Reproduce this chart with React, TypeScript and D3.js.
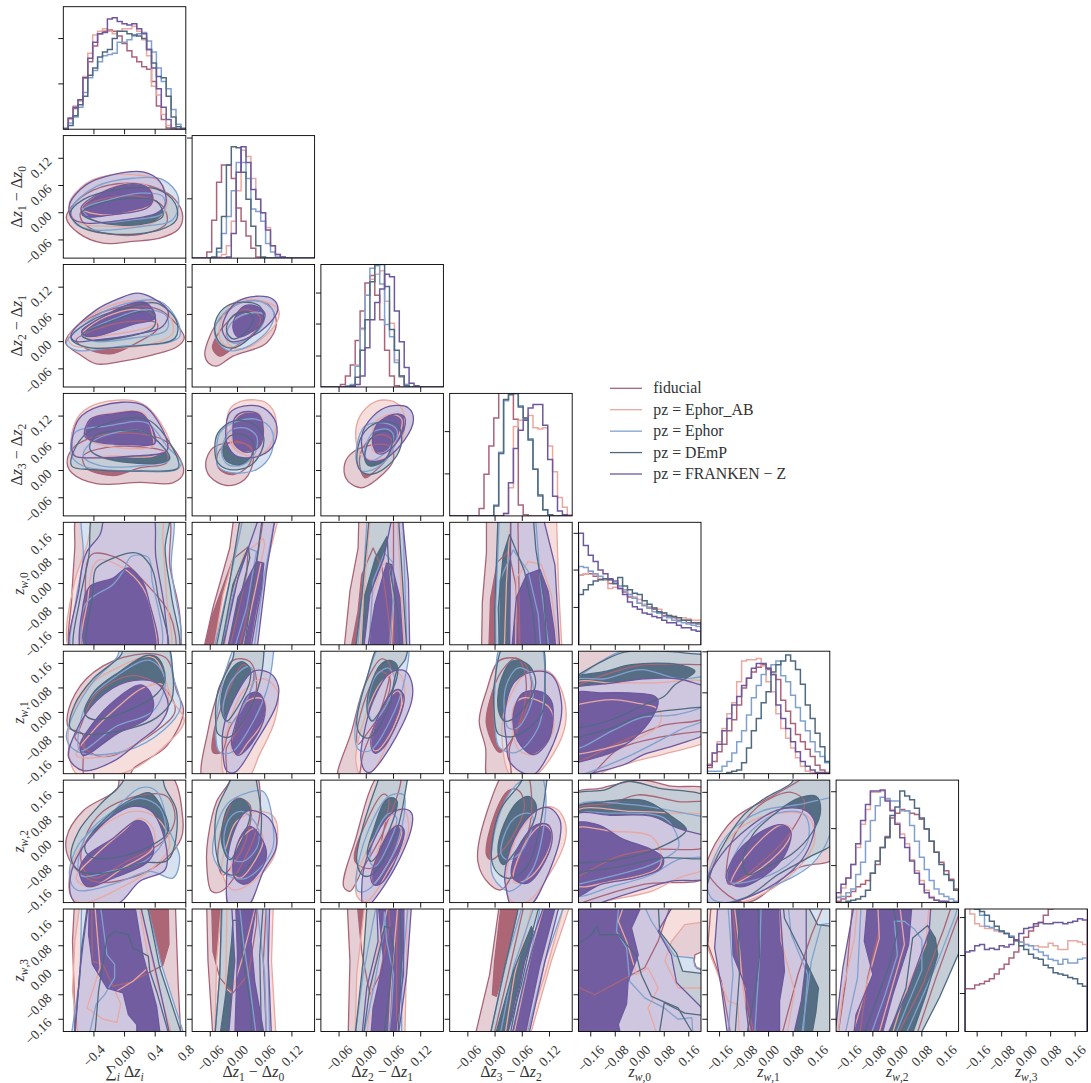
import React from "react";
import * as d3 from "d3";

const seriesNames = ["fiducial", "pz = Ephor_AB", "pz = Ephor", "pz = DEmP", "pz = FRANKEN − Z"];
const lineColors = ["#aa6478", "#e9a8a1", "#80a1d0", "#4f6a80", "#6d589e"];
const lightColors = ["#e5cfd5", "#f5dedb", "#d6e2ef", "#c5ced6", "#cfc7df"];
const darkColors = ["#ad6676", null, null, "#556e84", "#725da0"];

// parameter ranges, in hundredths
const sumRange = [-80, 80];
const deltaRange = [-10, 17];
const wRange = [-20, 20];
const sumTicks = [-40, 0, 40, 80];
const deltaTicks = [-6, 0, 6, 12];
const wTicks = [-16, -8, 0, 8, 16];
const paramRanges = [sumRange, deltaRange, deltaRange, deltaRange, wRange, wRange, wRange, wRange];
const paramTicks = [sumTicks, deltaTicks, deltaTicks, deltaTicks, wTicks, wTicks, wTicks, wTicks];

// marginal histograms, 25 bins each, relative height 0-100
const H0 = [
  [0,9,17,24,42,55,68,78,80,81,80,76,70,64,59,55,51,49,39,19,8,1,0,0,0],
  [0,8,19,23,43,62,77,80,82,80,78,80,82,82,84,80,73,60,35,28,12,3,1,0,0],
  [1,5,10,18,30,42,48,55,60,61,62,71,71,73,76,78,79,72,63,50,39,33,16,4,1],
  [0,3,11,20,27,44,50,59,63,65,74,80,80,78,77,76,74,65,54,43,42,27,10,2,0],
  [0,9,18,24,42,58,71,78,79,90,91,88,86,85,86,82,78,65,50,33,18,8,1,0,0],
];
const H1 = [
  [0,0,0,5,31,62,76,76,65,41,30,18,8,1,0,0,0,0,0,0,0,0,0,0,0],
  [0,0,0,0,0,1,3,10,30,55,88,83,65,48,37,25,10,3,1,0,0,0,0,0,0],
  [0,0,0,0,0,5,20,34,55,78,78,65,40,38,30,12,5,1,0,0,0,0,0,0,0],
  [0,0,0,0,1,8,34,76,91,90,70,48,26,10,1,0,0,0,0,0,0,0,0,0,0],
  [0,0,0,0,0,0,0,1,20,70,91,78,56,48,37,23,10,3,1,0,0,0,0,0,0],
];
const H2 = [
  [0,0,0,0,2,9,18,38,62,85,91,75,55,30,9,1,0,0,0,0,0,0,0,0,0],
  [0,0,0,0,0,0,1,18,47,75,88,92,95,70,52,22,8,2,0,0,0,0,0,0,0],
  [0,0,0,0,0,1,2,17,48,75,97,99,84,51,41,20,9,2,0,0,0,0,0,0,0],
  [0,0,0,0,0,0,1,8,30,55,86,100,100,82,47,30,9,1,0,0,0,0,0,0,0],
  [0,0,0,0,0,0,0,2,9,32,55,69,80,92,90,62,37,16,3,1,0,0,0,0,0],
];
const H3 = [
  [0,0,0,0,0,0,6,34,57,80,104,108,108,79,9,1,0,0,0,0,0,0,0,0,0],
  [0,0,0,0,0,0,0,0,0,0,0,2,23,73,78,80,82,72,71,72,57,36,15,7,1],
  [0,0,0,0,0,0,0,0,0,9,52,94,100,100,90,79,63,38,16,5,1,0,0,0,0],
  [0,0,0,0,0,0,0,0,0,8,51,95,99,100,89,80,62,38,17,5,1,0,0,0,0],
  [0,0,0,0,0,0,0,0,0,0,0,2,27,55,70,78,88,91,91,74,46,16,4,1,0],
];
const H4 = [
  [57,58,58,56,54,53,50,50,46,43,39,38,34,32,30,29,26,24,23,22,20,20,18,18,17],
  [57,58,60,57,54,53,46,47,48,45,41,39,37,33,31,30,29,26,24,23,22,22,21,20,20],
  [64,63,60,58,56,54,53,50,48,45,41,38,34,32,30,27,26,23,22,20,19,18,17,16,15],
  [41,45,49,52,53,54,53,50,55,48,45,42,41,36,33,30,27,26,24,23,22,20,20,18,18],
  [91,81,73,68,61,58,54,52,46,41,35,31,29,26,25,23,22,20,18,18,16,14,14,12,11],
];
const H5 = [
  [5,10,18,24,35,44,56,70,78,83,87,89,85,81,77,60,51,41,32,26,20,14,7,3,1],
  [8,17,26,37,49,58,75,92,93,93,94,88,75,67,49,37,29,21,13,6,2,1,0,0,0],
  [2,2,2,6,10,17,26,35,48,62,72,81,86,89,92,80,75,64,54,43,35,26,18,14,9],
  [0,0,0,0,1,2,3,9,21,35,45,58,67,83,89,92,97,92,85,73,56,45,33,22,10],
  [7,17,24,35,45,56,63,72,78,86,90,90,86,81,56,45,37,26,18,10,6,3,1,1,0],
];
const H6 = [
  [1,3,5,9,13,15,18,24,31,45,54,69,73,76,75,73,72,68,60,50,41,33,26,19,11],
  [5,12,20,31,45,64,76,90,90,91,84,76,65,56,48,35,26,18,10,5,2,1,0,0,0],
  [4,5,8,11,23,33,50,67,79,86,85,83,83,75,75,63,50,37,27,18,11,7,5,3,1],
  [0,0,1,2,3,5,10,24,34,45,53,71,78,91,87,84,77,69,60,50,41,31,23,18,10],
  [8,15,20,31,48,67,80,91,91,92,83,75,64,53,45,34,24,15,8,4,2,1,1,0,0],
];
const H7 = [
  [35,35,38,39,41,43,47,51,55,60,65,70,77,82,86,89,95,100,103,106,108,110,112,115,118],
  [101,96,88,86,84,84,82,81,80,77,74,73,71,70,70,69,69,72,70,67,67,74,74,73,71],
  [101,101,100,95,86,85,83,82,80,78,75,73,71,70,67,65,62,59,58,55,59,56,56,59,60],
  [101,101,100,98,95,90,86,82,80,77,74,70,67,63,60,59,54,52,48,47,46,44,43,39,37],
  [65,66,70,71,67,68,67,70,69,71,75,80,84,85,88,89,88,88,89,89,88,89,90,92,91],
];
const histograms = [H0, H1, H2, H3, H4, H5, H6, H7];
const histTicks = [[37,74],[48.4,98],[25.3,51.4,76.7],[34.3,68.8],[30.5,61,91],[33.4,66,99.5],[30.2,60.4,90.5],[31,62,93]];

// contours, flat x,y pairs in hundredths. Order per panel:
// fiducial 95/68, Ephor_AB 95/68, Ephor 95/68, DEmP 95/68, FRANKEN 95/68
const P1_0 = [
  [-76,-1.2,-60,-4.5,-28,-6.7,11,-6.3,46,-5.6,70,-3.7,76,-.8,66,2.9,42,5.4,3,6.5,-41,5,-69,1.4],
  [-58,-.8,-45,-3.4,-10,-4.9,29,-4.5,55,-2.3,50,1.4,20,3.6,-23,3.2,-52,1.4],
  [-72,2.1,-50,6.5,-23,8.2,11,8.4,46,6.9,55,1.4,37,-2.3,-19,-3,-63,-1.9],
  [-56,1,-28,4.7,11,6.5,33,5.4,37,2.1,11,.3,-32,-.4],
  [-69,1,-37,5.8,11,7.6,50,7.3,70,3.6,63,-1.5,24,-3,-41,-3.8,-65,-2.3],
  [-54,.7,-19,2.9,20,4.3,50,3.6,50,-.1,11,-1.5,-37,-1.9],
  [-71,-.1,-54,2.9,-10,5.1,42,5.2,66,2.1,68,-1.5,46,-3.8,-15,-4.7,-58,-3],
  [-56,-.1,-32,2,11,3.2,42,2.5,50,-.8,20,-2.6,-32,-2.1],
  [-72,1.8,-50,6.2,-15,8.4,24,9,46,6.9,54,2.1,42,-.1,3,-1.5,-50,-2.3,-69,-1.2],
  [-57,1,-32,4.3,11,6.4,31,5.4,37,2.9,29,1,-15,-.4,-50,-.8],
];
const P2_0 = [
  [-77,-.3,-58,-2.9,-37,-4.9,-2,-4.3,37,-2.9,68,-1.2,78,.8,68,3.8,46,7,3,7.8,-41,5.6,-69,2.3],
  [-63,.4,-32,3,11,4.5,42,4.1,42,2.6,20,.1,-19,-2.7,-54,-1.2],
  [-73,1.2,-41,6,3,8.9,42,8.5,55,7,63,1.9,29,-.7,-32,-1.4,-69,-.7],
  [-56,1.5,-32,4.9,11,7.1,35,6.3,42,4.1,29,3,-19,1.5,-50,.8],
  [-76,-.3,-50,4.1,-10,7.8,46,8.9,68,4.9,72,1.2,55,-.3,3,-.9,-63,-1.9],
  [-54,1.5,-15,4.9,29,7.1,55,5.6,55,2.6,11,.8,-41,.1],
  [-70,.8,-37,5.2,3,7.4,42,8.5,68,4.5,66,.8,11,-1,-50,-1.2],
  [-56,1.5,-23,4.1,29,6.7,40,5.2,37,3,-6,.8,-45,.4],
  [-70,1.5,-37,7,-6,9.6,16,10.7,37,9.6,57,6.7,50,3.4,11,1.5,-37,.4,-65,.1],
  [-56,2.3,-23,6,11,8.5,29,8.5,40,5.2,11,3.8,-37,1.2,-52,1.3],
];
const P3_0 = [
  [-75,1.7,-69,-.5,-37,-2.9,20,-2.6,63,-2.7,77,-.5,68,3.9,50,6.8,-2,8.3,-50,6.8,-69,4.6],
  [-54,3.2,-23,5.1,33,5,55,3.9,55,1.7,20,.6,-15,-1.1,-50,.6],
  [-70,6.8,-58,12.4,-32,14.9,11,15.4,33,13.5,59,5.4,37,3.2,-15,3.2,-63,3.2],
  [-52,7.9,-45,11.3,-15,12.7,24,12.7,37,7.6,37,5.4,-6,5,-45,6.5],
  [-69,3.2,-65,8.3,-23,9.8,29,10.5,55,5.4,74,1.7,68,.2,11,-.1,-54,1],
  [-54,3.2,-41,6.5,11,8.9,33,7.9,59,2.4,33,1.3,-32,1.1],
  [-69,1,-63,5.4,-43,9,29,11.3,68,3.2,70,.6,20,-.1,-41,.2],
  [-45,4.6,-39,7.6,3,8.9,29,8.3,59,2.8,50,1.8,-19,2.4],
  [-69,5,-60,11.3,-32,14.2,24,14.4,55,6.8,55,4.3,11,3.2,-41,2.8,-65,3.2],
  [-52,7.6,-45,11.3,-15,12.5,22,12.6,40,6.1,11,5.7,-41,6.5],
];
const P2_1 = [
  [-7.2,-2.9,-6.4,-4.7,-4.6,-5.4,-1,-3.2,6.4,-.3,8.6,4.1,6.4,8.5,.5,8.5,-3.9,4.9,-6.1,1.2],
  [-5.5,-1.4,-3.9,-3.2,-.96,-1.4,4.2,2.6,4.9,5.6,1.3,7.1,-2.4,4.1,-4.6,1.2],
  [-3.9,.8,-2.4,-1,2,-1.4,8.6,4.1,9,7.1,5.7,8.9,-.2,8.9,-3.2,5.6],
  [-2.6,.8,-1,-1.2,1.6,.1,5.7,4.1,5.7,6,2.4,6.3,-1,4.5],
  [-5,1.5,-2.4,-1.8,2,-1.2,7.1,3,7.9,6.7,4.9,8.9,.5,8.5,-3.9,5.2],
  [-2.4,1.5,-1,-.3,2.7,.8,5.7,4.1,5.7,6,2.7,6.3,-1,4.5],
  [-5,2.3,-3.5,-.7,-1,-1.4,2.7,.8,5.7,4.9,4.9,7.8,1.3,8.7,-2.4,7.8,-4.6,5.2],
  [-2.4,2.3,-1,.6,1.6,1.9,3.5,4.9,2.7,6.3,.1,6.3,-1.7,4.9],
  [-3.3,2.3,-1.7,.1,1.3,.4,6.4,3.4,8.9,7.1,7.9,9.3,4.2,10,.1,8.9,-2.4,6],
  [-1,3,.1,1,2.7,1.9,5.7,4.5,6,6.3,4.2,7.8,1.6,7.9,-.2,6],
];
const P3_1 = [
  [-7,1.7,-6.1,-1.3,-2.4,-3.3,1.6,-2,3.5,2.4,2.7,5.4,-1.7,6.1,-5.4,5],
  [-4.6,2.4,-3.9,.2,-1,-.9,2.4,1,3.1,4.6,-.2,6.5,-3.5,5],
  [-2.2,8.3,-1.7,13.5,1.3,15.4,6.4,14.9,8.5,11.3,7.1,5.4,4.2,3.2,-.2,4.3],
  [-1.3,6.8,-1,10.5,1.3,12.7,4.9,12.4,5.7,7.6,4.2,4.6,.1,4.3],
  [-4.6,4.6,-4.3,1,-1.7,-.4,4.2,.2,7.5,3.9,7.5,9,4.2,11.3,-1,10.5,-3.9,8.3],
  [-3.5,3.9,-2.1,1.3,1.3,1.3,3.9,3.9,4.2,7.6,1.6,9.4,-1.7,8.7],
  [-5,4.6,-4.3,1.7,-1.7,.2,2.7,1,5.3,4.3,5.7,7.6,3.1,10.5,-1,10.9,-4.3,8.3],
  [-3.2,4.6,-2.4,2.1,.5,1.3,3.1,3.2,3.5,6.1,1.3,7.9,-1.7,7.6],
  [-2.6,8.3,-1.7,12.7,1.3,14.2,5.7,13.8,8.5,10.5,8.2,6.1,4.9,3.2,-.2,3.2,-2.1,5.4],
  [-1,8.3,-.6,11.6,1.3,12.9,4.6,12.4,5.7,9,4.9,5.4,2,4,-.6,5.7],
];
const P3_2 = [
  [-4.9,.6,-4,-2.4,-1,-3.8,2.3,-2,6,2.4,5.2,5.4,.1,5.4,-3.6,3.5],
  [-1.5,1.7,-.3,-1.6,1.5,-.5,4.9,3.2,5.6,6.8,3,7.9,-.3,5.7],
  [-2.3,6.8,-1.4,12,2.3,15.3,6.7,14.9,8.4,12,7.4,5.4,3,2.4,-1,3.2],
  [1.2,6.8,1.9,10.5,5.6,12.4,7.8,11.3,6.7,6.8,3.8,3.9,1.5,4.3],
  [-2.1,1.7,-1,-.1,2.3,.6,5.9,4.6,6.7,9,3.8,10.5,-.3,9.8,-2.1,5.4],
  [-.3,3.2,.9,2.1,4.9,4.6,6,7.6,4.9,9,1.9,8.7,.1,6.1],
  [-2,1.7,-.7,-.5,2.3,-.5,6.7,3.2,7.8,7.6,6.7,10.1,2.3,10.5,-1,7.6],
  [-.3,2.4,.8,1,3.8,2.1,5.6,5.4,5.6,7.9,3.8,8.7,.8,6.8],
  [-1,7.6,1.5,12,5.2,14.2,9.3,13.8,10.4,11.3,8.5,6.8,3.8,2.4,.1,2.4],
  [1.4,6.1,2.3,10.1,6,12.4,8.3,12,8.3,9,5.2,4.6,2.6,3.7],
];
const P4_0 = [
  [-63,22.6,-65,11.6,-69,-4.6,-70,-23,72,-23,72,-10,59,6.2,57,22.6],
  [-54,-23,-52,-5.7,-39,9.9,-15,8.9,29,-.3,59,-10,66,-23],
  [-70,-23,-65,.8,-49,12.6,-37,24,50,24,50,15.9,55,-4.7,59,-23],
  [-54,-23,-49,-6.8,-32,7.8,-2,5.1,24,-1.4,38,-12,42,-23],
  [-69,-23,-63,-4.7,-54,8.4,-54,24,61,24,61,6,68,-23],
  [-49,-23,-45,-5,-37,-3.6,-15,-.3,-2,4,9,8.9,29,8.9,36,.8,44,-23],
  [-65,-23,-58,-4.7,-47,8.4,-39,24,59,24,53,11.6,61,-3.6,70,-23],
  [-46,-23,-41,-2.5,-37,5,-15,8.3,20,9.6,33,6.2,44,-4.6,55,-23],
  [-70,-23,-60,-2.5,-49,10.5,-32,16,-24,24,33,24,41,8.4,53,-10,55,-23],
  [-56,-23,-56,-10,-45,-.9,-15,1.8,5,5.1,22,1.3,33,-6.8,42,-23],
];
const P4_1 = [
  [-7.7,-23,-5.4,-7.9,-1.7,11.6,-.6,24,6,24,3,-5,0,-23],
  [-7.5,-23,-5.7,-11,-1,8,2.4,12,2,3,-2,-23],
  [-5.4,-23,-3.2,-3.6,.5,16,.9,24,9.5,24,6.4,6,4.2,-10,2.7,-23],
  [-3,-23,-1.7,-6.8,1.3,9.4,5.7,14.8,6,12.7,4.2,-.3,1.3,-20],
  [-5.4,-23,-.96,6,1.6,24,8.6,24,5.7,.8,3.5,-23],
  [-3.9,-23,-1,-3.6,2.4,11.6,4.2,10.5,2,-7.9,-1,-23],
  [-5,-23,-1.7,.8,.9,24,5.7,24,4.6,11.6,1.3,-23],
  [-3.9,-23,-1,-.3,2.4,12,2.7,8.4,-2.4,-23],
  [-3.5,-23,.1,1.8,5.3,24,8.6,24,6.4,4,4.2,-23],
  [-2.4,-23,.1,-4.6,4.2,7.2,5.8,6.7,5.3,-1.4,3.1,-20,2.7,-23],
];
const P4_2 = [
  [-5,-23,-3.6,-2.5,-1.8,11.6,-1.6,24,6,24,6,-23],
  [-3.6,-23,-1.8,-9,-1,2.9,1.5,11.6,3.5,5,5,-12,5.5,-23],
  [-1.5,-23,-.5,-3,1,24,6.7,24,8,-10,8.5,-23],
  [.5,-23,1.2,-5,3.5,6,5,7,6,-6,5.5,-23],
  [-2,-23,-.5,5,.3,24,8,24,8.5,.8,9,-23],
  [.5,-23,1.5,.8,4,10,5.8,7,6,-5,5,-23],
  [-2.5,-23,-1,-4.6,.8,24,7,24,9,-23],
  [-1,-23,-.3,-3.6,2,8.4,4.6,15.4,4.9,7,7,-10,7.5,-23],
  [-.7,-23,.8,-3.6,3.8,8,6,24,7.8,24,9.3,.8,9.6,-23],
  [.1,-23,1.9,-6.8,4.5,6.7,5.6,6.2,7.4,-4.6,8.2,-23],
];
const P4_3 = [
  [-3,-23,-2.8,-6,-1.9,10,-1.9,24,5,24,5.5,-23],
  [-1.4,-23,-1,-5,.5,7,3,10.5,4.5,0,5.5,-23],
  [2,-23,2.5,0,3.5,24,13.5,24,14,-1,14.8,-23],
  [4.5,-23,4.7,1.8,7.3,7.2,10.2,6.2,12.4,-3.6,13.9,-20,14,-23],
  [.2,-23,.1,-9,1,24,8.8,24,10,.8,12,-23],
  [.7,-23,1,.8,4,11,7.3,4,9.5,-10,10.2,-23],
  [0,-23,-.1,-9,.7,24,8.3,24,9,11,10.8,-5,11.5,-23],
  [1,-23,.7,-8,1.8,9.4,3.2,16,6.5,4,8.4,-10,9.1,-23],
  [3.2,-23,3.5,24,10.2,24,13.2,6,14.3,-23],
  [3.6,-23,4.7,-4.6,7,3,9.9,4.6,11.7,-2.5,13,-15,13.5,-23],
];
const P5_0 = [
  [-50,-22,-55,-7,-73,-5,-73,1,-50,11,-2,18,53,18,68,7,77,.4,55,-11,11,-18.5,5,-22],
  [-60,-6,-37,6,11,12,55,7,66,.4,42,-6,-15,-14,-37,-14,-65,-8],
  [-73,-12,-69,-.7,-45,9,-10,14.5,37,18,63,3.7,78,-2.8,50,-11.5,7,-19,-32,-21,-63,-20],
  [-63,-14,-41,-6,-10,1.5,24,8,50,9,57,1.5,29,-8,-19,-14],
  [-76,-8,-65,.4,-41,10,-10,18,-2,23,53,23,63,12,73,1.5,50,-6,3,-12.5,-50,-13.6,-69,-11.5],
  [-58,-12.5,-10,-4.4,37,.4,53,11,33,17,-10,12,-50,2.6],
  [-71,-5,-65,2.6,-41,11,-4,19,-2,23,53,23,63,13,61,3.7,42,-1.7,3,-5.5,-54,-7],
  [-52,-.1,-39,7,-6,13.4,29,18.6,44,17.7,53,11,42,6,3,.4,-41,-2.3],
  [-73,-14.7,-65,-7,-37,3.7,3,10,42,9.6,57,2.6,46,-3.9,20,-9.3,-15,-16,-54,-19],
  [-58,-10.4,-50,-6.6,-19,2.6,20,9,31,7.5,38,2.6,31,-1.7,-10,-7,-54,-14],
];
const P5_1 = [
  [-7.6,-22,-6.5,-6,-3.9,8,-1,17,2.7,16.6,4.2,8,.5,-5,-2.4,-11.5,-2.8,-22],
  [-5.4,-13,-5,-5,-1.7,8,1.3,15.6,3.5,13.4,2,3.7,-1.7,-5,-3.5,-13],
  [-3.5,-14.7,-1.7,-2.8,1.3,7,5.7,11,8.8,7,8.2,-2.8,4.9,-13.6,2,-22,-2.4,-22],
  [-1.3,-12.5,-1,-7,1.3,2.6,4.2,4.8,6,3.7,5.7,-2.8,2,-10.4,.1,-14],
  [-4.8,-6,-3.9,-13,-1.3,-13,2.7,-5,6.4,7,7.9,19,7.9,23,.5,23,-2.4,14.5],
  [-3,-1.7,-1.3,-3.4,2,4.2,3.8,12.3,2.4,15,-1,11,-2.8,4.8],
  [-4.8,-2.8,-4.3,-7,-1.7,-8,3.5,3.7,5.7,17,5.3,23,-.2,23,-1,17.7,-4.3,7],
  [-3.5,.4,-2.4,-2.8,-1,-.7,2.7,10,2.7,14.5,.9,16.6,-1.7,13.4,-3.5,5.8],
  [-3.2,-13.6,-2.4,-19,-.6,-19.6,4.2,-9.3,8.6,2.6,9,8.7,7.1,12.9,3.5,13.4,-1,3.7,-3.2,-6],
  [-1.3,-10.4,.1,-14,2.4,-11.5,5.7,-2.8,6,2.6,4.6,6.4,2.4,5.8,-.2,-2.8],
];
const P5_2 = [
  [-6.2,-22,-3.2,-6,-.3,9,3.4,17.5,5.2,15.6,3.8,3.7,-.7,-13.6,-2.1,-22],
  [-2.1,-7,.1,5.8,3,13.4,5.2,11,3.8,1.5,.1,-7,-1.8,-10.4],
  [-2.3,-15.8,-.3,-1.7,3.4,10,7,12.9,8.5,7,6,-5,1.5,-19,-1,-21],
  [1.2,-11.5,1.9,-3.9,4.5,3.7,7.1,7,7.8,3.7,6,-5,2.3,-12.5],
  [-2.5,-6,-1.8,-12,.8,-12.5,5.2,-2.8,8.5,11,8.9,23,3.8,23,.1,11],
  [.4,.4,1.5,-2.8,4.5,2.6,6.3,11,4.9,14.5,2.3,12.3,.8,7],
  [-2.1,-3.9,-1,-7.7,.8,-8.2,4.9,1.5,6.7,13.4,8.7,17.7,8.7,23,3.4,23,.1,11],
  [.2,.4,1.2,-2.8,2.6,-.6,6.7,11,6.7,15.6,5.2,17,3.4,16,.8,8],
  [-1.2,-14.7,-.3,-19,.8,-19.6,5.2,-11.5,10,3.7,10,10,8.5,13.6,5.2,12.9,1.5,3.7,-.7,-8.2],
  [1,-10.4,1.9,-13.3,3.8,-11.5,7.8,.4,8.3,5.3,7.1,7.5,5.2,5.8,1.9,-3.9],
];
const P5_3 = [
  [-1.5,-22,-2.1,-11.5,-3.5,-2.8,-1.9,7,1,17,5.8,17,8,10,6.5,-.6,3.2,-11.5,3.2,-22],
  [-1.9,-3.9,1,-13,3.2,-10,6.5,2.6,6.5,13.4,4.7,17.7,1.4,13.4,-1.2,3.7],
  [1.5,-5,2.9,3.7,6.5,12.3,11.7,13.4,15,5.8,15.5,-3.9,12.8,-13.6,8.4,-21,3.6,-21],
  [3.9,-6,4.3,2.6,6.5,4.8,12,1.5,12.8,-6,8.8,-13.6,5.4,-12.5],
  [0,-5,1,-11.5,4.7,-13,9.5,-5,11,12.3,10.6,20,10.2,23,1.8,23,0,8],
  [2.1,-.6,2.9,-5,5,-5,8.4,5.8,7.3,13.4,5,14.5,2.5,9],
  [-.2,.4,.7,-7,4.3,-7.7,10.2,-.6,11,10,9.9,23,2.5,23,-.1,10],
  [.8,.4,2.1,-2.8,4.3,-1.7,8.8,8,8.4,13.4,6.2,16.6,3.6,16.6,1,9],
  [2.5,-9.3,3.2,-16,6.5,-20,8.8,-20,13.9,-6,14.6,3.7,12.4,12.3,8.8,13.4,4.3,10,2.1,-.7],
  [4,-.6,5,-9.3,8.4,-13.8,11.7,-9.3,12.8,-1.7,12.4,3.7,10.2,6.7,6.2,6.4],
];
const P5_4 = [
  [-24,-22,-17,-21,-7,-12,7,-8,22,-6,25,-6,25,22,-24,22],
  [-22,8,-20,9,-6,14,1.6,15.6,20,15.6,23,15.6,23,-.6,7,-4.4,-8,-10.4,-20,-16,-22,-16],
  [-12.5,-20,-1.6,-16,8,-13.6,20,-10.4,23,-9.3,23,9,4,9.6,-9,9.6,-22,9,-22,-22,-12.5,-22],
  [-20,2.6,-9,4.2,-.5,3,5.4,1.5,7,-.6,6,-4.4,-2.7,-9.3,-20,-13.6,-22,-13.6,-22,2],
  [-22,-21,-18,-20,-3,-14,12.5,-6,23,-.6,23,23,-3,21,-11,17.7,-20,11.8,-22,11],
  [-22,10,-11.4,11,.5,14,12.5,11,23,11,23,3.7,12.5,-.6,.5,-1.7,-9,-6,-22,-11.5],
  [-20,12.3,-12.5,16.6,-5,19.7,7,20,20,19,23,19,23,2.6,17,1.5,1.6,-.6,-9,-5,-20,-8.2,-22,-9.3,-22,11],
  [-20,-5,-9,-2.3,1.6,2.6,8,5.3,11.4,9,18,13.4,12.5,15.6,-2.7,15.6,-11.4,13.4,-20,12,-22,11,-22,-5],
  [-20,8.5,-9,9.6,1.6,11,12.5,11,20,9,23,8.5,23,-5.5,12.5,-10.4,1.6,-13.6,-5,-17,-16,-20,-22,-22,-22,8],
  [-22,5.8,-12.5,6.4,-3.8,6.4,4.9,5.3,6,3.7,4,-1.7,-1.6,-8.2,-9,-13,-20,-16.3,-22,-17],
];
const P6_0 = [
  [-71,-6.5,-76,1,-54,10,-10,17,-4,22,59,22,76,7.6,74,1,50,-6.5,7,-12,-41,-13],
  [-56,-7.6,-52,1,-28,9.8,20,15,55,14.7,66,7.6,50,0,3,-6.5,-41,-12],
  [-73,-15,-63,-4.3,-32,4.3,11,9.8,42,7.6,59,-1,37,-8.7,-10,-15.8,-50,-20,-67,-19],
  [-63,-12,-37,-4.3,-2,3.3,20,7.6,37,4.3,37,-2.2,-2,-8.7,-45,-15],
  [-72,-11,-60,-1,-23,7.6,20,17.4,42,16.3,59,3.3,72,-5.4,63,-12,33,-9.8,-15,-14,-63,-15.8],
  [-58,-11,-19,-9.8,29,-6,53,1.6,46,10.9,20,14,-19,9.2,-52,1],
  [-70,-5.4,-60,3.3,-32,12,-2,19.6,-1,24,44,24,53,17.4,68,9.8,57,-6,24,-7,-23,-10.3,-58,-9.8],
  [-52,-1.6,-23,8,11,14,33,15.8,50,10.3,57,3.3,33,-1.6,-15,-5.4,-45,-4.9],
  [-71,-12,-58,-3.3,-19,7.6,11,11.4,35,9.8,53,0,53,-9.2,20,-13,-10,-20.6,-58,-21,-69,-18.5],
  [-59,-9.8,-50,-4.9,-15,1,16,6.8,29,5.4,38,-3.3,29,-7,-15,-12,-49,-14.7],
];
const P6_1 = [
  [-6.8,-6.5,-6.5,1,-4.6,13,-1.7,19.6,-1,24,3.5,24,4.9,8.7,1.3,-6.5,-3.5,-16.3,-5.7,-16.3],
  [-4.3,-6.5,-3.2,5.4,-.2,14,2.7,12,2,1,-1,-7.6,-3.2,-11],
  [-3.5,-9.8,-2.1,0,-.2,6.5,4.9,9.8,8.2,7.6,8.2,-4.3,3.5,-13,-1,-15.8],
  [-1.3,-9.8,-1,-5.4,1.6,2.2,4.2,4.3,5.7,1,4.2,-5.4,.5,-12],
  [-5.4,-4.3,-2.4,-10.9,2,-12,7.5,-3.3,7.9,4.3,5.7,16.3,2.5,16,-2.4,12],
  [-3,0,-1.7,-5.4,1.3,-6.5,4.6,-1,4.2,5.4,.9,9.8,-1.7,7.6],
  [-4.6,-4.3,-3.2,-9.8,-.2,-10.9,4.2,-4.3,5.3,7.6,4.2,19.6,3.8,24,-1,24,-1.7,19.6,-4.6,9.8],
  [-3.3,-1.6,-1.7,-6,-.2,-3.3,2.7,7.6,2.7,10.9,.9,13.9,-1.7,12,-3.5,3.3],
  [-2.4,-12,-1.7,-21.7,2,-21.7,5.7,-9.8,8.5,-2.2,8.2,4.3,6,8.7,2,9.8,-1.3,1],
  [-1,-7.6,-.6,-12,1.6,-14,4.9,-9.8,6.4,-4.3,5.3,1,2.7,4.9,.5,1],
];
const P6_2 = [
  [-5,-14.7,-3.6,-16.3,-.7,-8.7,3.8,3.3,7.4,22,3,22,-2.5,0],
  [-2.5,-6.5,.4,7.6,3.8,15.4,4.9,14,3.8,3.3,1.2,-8.7],
  [-2.3,-13,-1.8,-18.5,.1,-19.6,5.2,-8.7,9.3,3.3,8.2,10.3,4.9,7.6,.1,-3.3],
  [1.2,-13,1.5,-14,5.9,-4.3,7.8,3.3,6.7,5.4,3.8,1,1.5,-8],
  [-2.3,-13,-1.8,-16.3,.4,-15.8,5.9,-4.3,8.5,10.9,8.2,15.2,4.9,14.7,.1,2.2],
  [.8,-6.5,1.9,-8.2,5.2,0,6.7,7.6,5.2,9.2,2.3,3.3],
  [-2.1,-6.5,-.7,-11.2,1.2,-10.9,5.6,-1,8.5,15.2,8.7,24,3.8,24,2.3,18.5,-1,3.3],
  [.2,-4.3,1,-6.5,2.3,-4.9,6.3,8.7,6.8,13,5.6,14.3,4.1,13,1.5,3.3],
  [-1,-15.2,-.5,-22,1.2,-20,6.7,-7.6,10.1,5.4,10,9.2,8.5,10.5,5.2,8.7,.1,-5.4],
  [1,-12,1.9,-14.3,3.8,-13,7.8,-1,8.3,3.8,7.1,5.2,5.2,3.3,1.9,-7],
];
const P6_3 = [
  [-3.8,-6.5,-1.2,-14,1.4,-15.8,5,-6.5,8,8.7,6.5,24,2.9,24,-1.5,10.9],
  [-1.9,-4.3,-.8,-6,3.6,1,6.5,12,5,16.8,2.9,16.5,-.1,8.7],
  [2.5,-10.9,2.5,-16.3,3.6,-19.6,7.3,-19.6,11,-13,15.4,0,15.4,6.5,13.2,10.9,10.2,10.9,5,2.2],
  [4,-10.9,4.3,-13.6,8,-11.4,12,-2.2,12.4,3.3,10.6,5.4,7.3,1],
  [-.8,-9.8,.7,-14,3.2,-16.3,8,-9.8,11,7.6,11,17.4,9.9,22,4.7,18.5,.7,7.6],
  [1.4,-4.3,2.9,-6,5.8,-3.3,8.4,7.6,7.3,9.2,4.3,7.6,1.8,1],
  [-.7,-6.5,1,-10.9,3.6,-12,7.3,-7.6,11,15.2,11,24,6.5,24,5.8,19.6,1,9.8],
  [.7,-4.3,1.8,-7.6,4,-4.3,8.8,7.6,8.9,12.5,7.3,14.7,4.7,12.5,1.4,3.3],
  [2.1,-10.9,2.5,-15.8,3.6,-21,7.6,-21,11,-13,14.3,1,14.3,7,12,10.9,8.8,9.8,4.3,1],
  [3.6,-10.9,4.7,-13,7.3,-13.6,11,-6.5,12.6,1,11.7,5.4,9.1,5.4,5,-2.2],
];
const P6_4 = [
  [-22,15,-12.5,17.4,.5,20,10.3,18,23,16.3,23,-10.9,1.6,-14,-20,-20.6,-22,-22],
  [-22,9.8,-9,12.5,-.5,15.2,12.5,13,23,12,23,-1,3.8,-2.7,-7,-4.9,-20,-11.4,-22,-12],
  [-22,9.2,-2.7,9.8,10.3,9.2,23,7.6,23,-7.6,12.5,-12,3.8,-16.3,-12.5,-20,-16,-22,-22,-22],
  [-22,3.8,-9,3.3,3.8,1.6,7,-4.3,6,-8.7,-9,-13,-22,-14],
  [-22,10.9,-2.7,12,20,8.2,23,8,23,-3.8,12.5,-6,3.8,-10.9,-9,-14.7,-22,-17.4],
  [-22,8,-9,9.2,8,7.6,12.5,1,12.5,-2.2,3.8,-7.6,-20,-14,-22,-14.7],
  [-22,14.7,-11.4,16.8,-4.3,19.6,6,17.4,23,13.6,23,-4.3,7,-5.4,-6,-8.2,-20,-10.3,-22,-11],
  [-22,10.3,-11.4,13,1.6,13.3,10.3,8.2,15.2,3.8,6,-2.2,-7,-6,-20,-7,-22,-7],
  [-22,8.2,-9,8.5,3.8,8.2,12.5,4.3,20,2.2,23,1.6,23,-11.4,10.3,-13,.5,-15.8,-12.5,-20,-17,-22,-22,-22],
  [-22,5.4,-13.6,5.4,-6,1,3.8,-2.7,7.6,-5.4,7,-8.7,-1.6,-12,-12.5,-14,-20,-18,-22,-18.5],
];
const P6_5 = [
  [-20,-9.8,-18.7,-3.3,-11,7.6,-.2,14,9.6,19.6,14,23,22,23,22,-5,9.6,-8.7,-7.8,-20],
  [-13,-14,-2.4,-7,7.4,3.3,11.7,13,7.4,16,-.2,13.6,-5.7,9.2,-12,0],
  [-20,-13,-15.4,-2.2,-7.8,5.4,3,9.2,12.8,8.2,15,0,8.5,-9.8,-4.6,-18.5,-15.4,-21,-20,-21],
  [-12.2,-14,-2.4,-8.7,6.3,0,7.4,4.3,4.1,5.4,-7.8,-5.4],
  [-19.8,-11.9,-18.7,-18.5,-14.3,-20,-1.3,-15.8,14,-7.6,20,2.2,21,14,17.2,13.6,9.6,12,-2.4,9.8,-13.3,2.2],
  [-13.3,-13,3,-9.8,12.8,0,11.7,8.7,3,9.2,-7.8,1],
  [-20,-20,-18.7,-9.8,-9,7.6,-1.3,14,7.4,19,9.6,22.8,22.6,22.8,22.6,1,12.8,-5.4,3,-10.9,-7.8,-18.5],
  [-8.4,-6.5,-5.1,2.2,3,9.8,9.6,14,15.5,14.7,17,10.3,14.5,3.3,7.4,-4.3,-1.3,-8.7,-6.8,-10.9],
  [-20.5,-14,-19,-21,-15.4,-21,-1.3,-15.8,9.6,-7.6,14,0,15,6.5,11.7,10.3,3,10.3,-6.8,4.3,-15.4,-4.3],
  [-13.8,-12,-12.2,-14,-7.8,-14.7,3,-7.6,6.8,-1,7.2,3.3,4.7,5.4,-1.3,3.8,-10,-3.3],
];
const P7_0 = [
  [-65,24,-68,9.5,-66,-6,-65,-24,74,-24,70,-4,66,24],
  [-43,22,-42,3,-28,1.8,-15,-5.2,7,-4,50,1.6,58,8.4,57,22],
  [-58,22,-65,9.5,-68,-7,-60,-22,63,-22,42,-3.6,20,22],
  [-39,22,-32,.8,-49,-12.3,-28,-16,-10,-17,-5,-11,-12,-7,11,-3.6,33,1.3,18,22],
  [-56,22,-58,-2,-70,-22,79,-22,48,2,29,22],
  [-32,22,-23,5,-13,2,-13,-2.5,-26,-8,-37,-11,-47,-22,-47,-30,-85,-30,-85,30,-32,30],
  [-48,22,-56,7.3,-60,-5.8,-66,-22,76,-22,46,.8,29,22],
  [-39,-22,-34,-6.8,-23,10.5,-13,12.7,5,11.6,11,7.3,31,4.6,33,-.3,42,-7,59,-22],
  [-47,22,-54,9,-59,-2,-65,-22,60,-22,45,-5,20,22],
  [-46,22,-47,11.6,-42,2,-23,-5.8,-2,-7.4,5,-14.5,16,-17.7,16,-22,47,-22,42,-12,24,5,13,22],
];
const P7_1 = [
  [-6.8,22,-6.5,3,-5.4,-22,6.4,-22,5.7,3,6.4,22],
  [-5.7,22,-5.4,6,-3.9,-2.5,-1,-7.4,2.4,-1.4,4.2,15,4.2,22],
  [-3.5,22,-4.6,3,-5,-22,8.5,-22,7.5,3,7.9,22],
  [-2.3,22,-2.6,-5.8,-1.3,-7.4,.9,3,4.2,22],
  [-3.3,22,-3.9,-1.4,-5,-22,7.1,-22,6.8,-1.4,6.4,22],
  [.4,22,1.3,9.3,2.4,-1.4,4.2,-22,6.4,-22,6,-1.4,4.2,22],
  [-3.5,22,-3.9,-1.4,-5,-22,5.3,-22,4.9,5,5.7,22],
  [-3.9,-22,-2.4,-5.8,-1.3,9.3,-1,16.3,.4,16.3,1.3,3,3,-12.3,3,-22],
  [-1.3,22,-.6,3,-2,-22,7.5,-22,6.8,3,7.1,22],
  [-.4,22,0,5,-.6,-22,6,-22,3.8,-3.6,3,9.5,4.2,22],
];
const P7_2 = [
  [-4.2,22,-3.6,3,-4,-22,6.7,-22,6.7,9.5,7,22],
  [-2,22,-1,6,.8,-8,3,-1.4,5.2,15,4.9,22],
  [-.3,22,-2.1,-1.4,-2.5,-22,8.5,-22,8.9,4,8.9,22],
  [.1,-22,1.5,-1.4,3,9.5,4.9,22,7,22,5.6,-1.4,4.9,-22],
  [2.3,22,-.7,-1.4,-2.5,-22,7.8,-22,7.8,-1.4,9.3,22],
  [4,19,4.5,9.5,6,-1.4,5.6,-12.3,4.9,-22,-.7,-22,1.5,-6.8,3.8,11.6],
  [.2,22,-.7,3,-2.5,-22,7,-22,7.8,4,7.4,22],
  [-.7,-22,.8,-5.8,3,7.3,4.1,14.3,5.2,13.8,6,7.3,5.2,-5.8,3.8,-22],
  [2.3,22,2.6,9.5,.1,-5.8,-1,-22,7,-22,8.9,-1.4,10,22],
  [2.6,22,3.8,3,1.5,-12.3,1,-22,6.3,-22,8.2,-1.4,8.3,22],
];
const P7_3 = [
  [-4.5,-22,-1.2,-1.4,1,22,6.5,22,2.9,-1.4,-.4,-22],
  [-.6,-8,.3,-8.5,2.5,3,4.9,19,4.7,22,1.4,22,-.1,3],
  [2.1,-22,4.3,-1.4,8.4,22,16.7,22,12.4,3,7.6,-22],
  [4,-22,7.6,3,11,22,15.4,22,11,-1.4,6.5,-22],
  [-1.2,-22,2.5,3,6.2,22,15.4,22,11,3,6.9,-22],
  [1,-22,4,.8,8.4,20,9.9,20,6.9,-1.4,3.6,-22],
  [-1.2,-22,2.1,.8,5.4,22,9.9,22,6.5,3,3.2,-22],
  [-.1,-22,4,-.3,8,14.3,8.4,12.7,5.8,-4.7,2.5,-22],
  [2.5,-22,6.5,3,11,22,14.3,22,11,3,7.3,-22],
  [3.6,-22,6.9,-.3,11.3,22,13.5,22,9.9,1.8,6.5,-22],
];
const P7_4 = [
  [-22,22,23,22,23,7.3,18,5,17.8,2.9,18.5,.8,23,-1.2,23,-23,-22,-23],
  [-22,-4.7,-14.7,-8,-7,-3.8,1.6,.8,6,9.5,10.3,22,-22,22],
  [-22,22,23,22,23,16,14.7,14.9,10.3,9.3,8.2,3,12.5,-5.8,23,-5.8,23,-23,-22,-23],
  [-4.9,22,-7,16,-4.3,9.5,-1,-1.4,2.7,.8,6,-5.8,2.7,-12.3,6,-22,-22,-22,-22,22],
  [1,22,3.8,16,11.4,4.6,17.5,4,18,1.3,23,-1,23,-23,-22,-23,-22,22],
  [-6.8,22,-7.6,12.7,-4.3,7.3,-3.3,-3.6,1.6,-9,8,-12.3,12.5,-16,17,-15.5,17.4,-22,-22,-22,-22,22],
  [-22,22,6,22,6.5,12.7,12,5.6,14,-.3,23,-1.4,23,-15,14.7,-14,8,-10.6,6,-23,-22,-23],
  [-22,7.3,-15.8,11.6,-14,14.3,-13,11.6,-7,11.6,-1,4.6,.5,-1.4,3.8,-8.5,12.5,-12.3,17,-20,17.4,-23,-22,-23],
  [-22,22,11.4,22,6,12.7,10.3,5,12,-4,20,-12,23,-14.5,23,-23,-22,-23],
  [-22,22,1,22,-2.7,13.8,-.5,5,-3.8,-3.6,-4.3,-11,-7,-17.7,-6,-22,-22,-22],
];
const P7_5 = [
  [-18.7,22,-19.8,8.4,-15.4,-3.6,-12.2,-22,25,-22,25,22],
  [-12.2,22,-10,5,-4.6,-22,4.1,-22,9.6,-1.4,14,11.6,18.3,22],
  [-20.3,22,-20.3,8.4,-16.5,-1.4,-13.3,-10,-10,-11.2,-9.5,-22,25,-22,25,22],
  [-11.3,22,-9.5,7.3,-8.4,-5.8,-5.7,-22,5.8,-22,8.5,-6.8,4.1,9.5,3.6,22],
  [-13.3,-22,-11.6,-1.4,-13.3,22,25,22,25,16,17.2,14.9,14,3,10.7,-22],
  [-2.4,22,-2.9,5,-4.6,-22,11.2,-22,12.8,-1.4,7.4,11.6,6.3,22],
  [-11,-22,-9.5,-1.4,-10,22,12.3,22,16,14.9,24.8,13.8,24.8,-22],
  [-7.3,-22,-4.3,-6.8,-2.9,5,-3.5,22,4.7,22,5.2,17,11.2,5,16.3,-5.8,15.5,-13.4,14,-22],
  [-16.5,22,-17.6,7.3,-15.4,-5.8,-13.3,-22,8,-22,10.7,-10,12.3,3,12.3,22],
  [-12.2,22,-11.6,5,-7.3,-5.8,-7.3,-12.3,-6.2,-22,3.6,-22,3.6,-10,5.2,-.3,3.6,22],
];
const P7_6 = [
  [-14.6,22,-16.7,-2.5,-19.5,-22,6,-22,12.6,-2.5,20,18,21.3,22],
  [-6.4,22,-6,12.7,-9.7,-2.5,-12.4,-22,-.4,-22,8.3,-4.7,15.3,13.8,18,22],
  [-13,22,-14,10.5,-17.8,-6.8,-19.5,-22,-2,-22,2.3,-8,9.3,8.4,10.4,22],
  [-6.4,22,-5.9,10.5,-12.4,-13.4,-15,-22,-6.4,-22,.7,2.9,2.3,8.4,.7,22],
  [-11.8,22,-13,-2.5,-17.3,-22,2.3,-22,13.2,2.9,19,18,20,22],
  [-9,-22,-4,-8,0,5,-1,16,2.3,16,5.5,13.5,8,10,8,0,3,-12,-1,-22],
  [-11.3,-22,-2.6,1.8,.1,12.7,-1.5,22,21.3,22,21.3,8.4,13.7,-9,7,-22],
  [-3.2,-22,2.8,-5.8,5,10.5,9.9,14.6,12.4,10.5,13.2,5,9.3,-8,4.5,-22],
  [-14,22,-17.8,.8,-20,-17.7,-22,-22,-3.7,-22,3.4,-6.8,10.4,12.7,11,22],
  [-9.7,22,-10.8,9.5,-8,-1.4,-13.5,-14.5,-14.3,-22,-5.3,-22,-1.5,-8,3.7,8.4,4.8,22],
];
const contourPanels = [
  [1,0,P1_0],[2,0,P2_0],[3,0,P3_0],[2,1,P2_1],[3,1,P3_1],[3,2,P3_2],
  [4,0,P4_0],[4,1,P4_1],[4,2,P4_2],[4,3,P4_3],
  [5,0,P5_0],[5,1,P5_1],[5,2,P5_2],[5,3,P5_3],[5,4,P5_4],
  [6,0,P6_0],[6,1,P6_1],[6,2,P6_2],[6,3,P6_3],[6,4,P6_4],[6,5,P6_5],
  [7,0,P7_0],[7,1,P7_1],[7,2,P7_2],[7,3,P7_3],[7,4,P7_4],[7,5,P7_5],[7,6,P7_6],
] as [number, number, number[][]][];

type Seg = { t: string; it?: boolean; sub?: boolean };
const dz = (a: string, b: string): Seg[] => [
  { t: "Δ" }, { t: "z", it: true }, { t: a, sub: true }, { t: " − Δ" }, { t: "z", it: true }, { t: b, sub: true },
];
const zw = (k: string): Seg[] => [
  { t: "z", it: true }, { t: "w", it: true, sub: true }, { t: "," + k, sub: true },
];
const paramLabels: Seg[][] = [
  [{ t: "∑" }, { t: "i", it: true, sub: true }, { t: " Δ" }, { t: "z", it: true }, { t: "i", it: true, sub: true }],
  dz("1", "0"), dz("2", "1"), dz("3", "2"), zw("0"), zw("1"), zw("2"), zw("3"),
];

const PX0 = 63.3, PY0 = 6.7, STEP_X = 128.8, STEP_Y = 128.9, SIZE = 122.5;
const SERIF = '"Liberation Serif", serif';
const INK = "#333333";
const fmt = (v: number) => (v < 0 ? "−" : "") + (Math.abs(v) / 100).toFixed(Math.abs(v) >= 20 && Math.abs(v) % 10 === 0 && Math.abs(v) > 16 ? 1 : 2);

function pairs(flat: number[]) {
  const out: [number, number][] = [];
  for (let i = 0; i < flat.length; i += 2) out.push([flat[i], flat[i + 1]]);
  return out;
}

function MathText({ segs, ...rest }: any) {
  let inSub = false;
  return (
    <text fontFamily={SERIF} fill={INK} {...rest}>
      {segs.map((s: Seg, i: number) => {
        const dy = s.sub && !inSub ? 3.5 : !s.sub && inSub ? -3.5 : 0;
        inSub = !!s.sub;
        return (
          <tspan key={i} dy={dy} fontStyle={s.it ? "italic" : "normal"} fontSize={s.sub ? 11.5 : 16} xmlSpace="preserve">
            {s.t}
          </tspan>
        );
      })}
    </text>
  );
}

function Frame({ r, c, yTicks }: { r: number; c: number; yTicks: number[] }) {
  const x = d3.scaleLinear().domain(paramRanges[c]).range([0, SIZE]);
  return (
    <g>
      <rect width={SIZE} height={SIZE} fill="none" stroke="#000" strokeWidth={0.9} />
      {paramTicks[c].map((t) => (
        <line key={t} x1={x(t)} x2={x(t)} y1={SIZE} y2={SIZE + 5} stroke="#000" strokeWidth={0.9} />
      ))}
      {yTicks.map((y, i) => (
        <line key={i} x1={-5} x2={0} y1={y} y2={y} stroke="#000" strokeWidth={0.9} />
      ))}
      {r === 7 &&
        paramTicks[c].map((t) => {
          const label = fmt(t);
          const side = 5.65 * label.length;
          return (
            <text key={t} transform={`translate(${x(t)},${SIZE + 13 + side / 2}) rotate(-45)`} textAnchor="middle" dominantBaseline="central"
              fontFamily={SERIF} fontSize={13.5} fill={INK}>{label}</text>
          );
        })}
    </g>
  );
}

export default function App() {
  const smooth = d3.line<[number, number]>().curve(d3.curveCatmullRomClosed.alpha(0.5));
  const tight = d3.line<[number, number]>().curve(d3.curveCatmullRomClosed.alpha(1));
  const straight = d3.line<[number, number]>().curve(d3.curveLinearClosed);
  return (
    <svg width={1091} height={1083} style={{ position: "absolute", left: 0, top: 0, background: "#fff" }}>
      <defs>
        <clipPath id="panelClip"><rect width={SIZE} height={SIZE} /></clipPath>
      </defs>

      {histograms.map((series, k) => {
        const x = d3.scaleLinear().domain([0, 25]).range([0, SIZE]);
        const y = d3.scaleLinear().domain([0, 100]).range([SIZE, 0]);
        const path = d3.line<[number, number]>().x((d) => x(d[0])).y((d) => y(d[1]));
        return (
          <g key={k} transform={`translate(${PX0 + k * STEP_X},${PY0 + k * STEP_Y})`}>
            <g clipPath="url(#panelClip)">
              {series.map((vals, s) => {
                const pts: [number, number][] = [[0, 0]];
                vals.forEach((v, i) => { pts.push([i, v], [i + 1, v]); });
                pts.push([25, 0]);
                return <path key={s} d={path(pts) || ""} fill="none" stroke={lineColors[s]} strokeWidth={1.5} />;
              })}
            </g>
            <Frame r={k} c={k} yTicks={histTicks[k].map((t) => y(t))} />
          </g>
        );
      })}

      {contourPanels.map(([r, c, sets]) => {
        const x = d3.scaleLinear().domain(paramRanges[c]).range([0, SIZE]);
        const y = d3.scaleLinear().domain(paramRanges[r]).range([SIZE, 0]);
        const gen = r === 7 || (r === 4 && c > 0) ? straight : r === 4 ? tight : smooth;
        const dOf = (flat: number[]) => gen(pairs(flat).map(([a, b]) => [x(a), y(b)] as [number, number])) || "";
        return (
          <g key={`${r}-${c}`} transform={`translate(${PX0 + c * STEP_X},${PY0 + r * STEP_Y})`}>
            <g clipPath="url(#panelClip)" strokeLinejoin="round">
              {seriesNames.map((_, s) => (
                <g key={s}>
                  <path d={dOf(sets[2 * s])} fill={lightColors[s]} />
                  {darkColors[s] && <path d={dOf(sets[2 * s + 1])} fill={darkColors[s] as string} />}
                </g>
              ))}
              {seriesNames.map((_, s) => (
                <g key={s} fill="none" stroke={lineColors[s]} strokeWidth={1.3}>
                  <path d={dOf(sets[2 * s])} />
                  <path d={dOf(sets[2 * s + 1])} />
                </g>
              ))}
            </g>
            <Frame r={r} c={c} yTicks={paramTicks[r].map((t) => y(t))} />
            {c === 0 &&
              paramTicks[r].map((t) => (
                <text key={t} transform={`translate(-14,${y(t) + 1}) rotate(-45)`} textAnchor="end" dominantBaseline="central"
                  fontFamily={SERIF} fontSize={13.5} fill={INK}>{fmt(t)}</text>
              ))}
          </g>
        );
      })}

      {paramLabels.map((segs, k) => (
        <MathText key={k} segs={segs} textAnchor="middle" x={PX0 + k * STEP_X + SIZE / 2} y={1077} />
      ))}
      {paramLabels.slice(1).map((segs, k) => {
        const r = k + 1;
        const cy = PY0 + r * STEP_Y + SIZE / 2;
        return <MathText key={k} segs={segs} textAnchor="middle" transform={`translate(${r < 4 ? 22 : 24},${cy}) rotate(-90)`} />;
      })}

      {seriesNames.map((name, s) => {
        const legendY = d3.scaleLinear().domain([0, 4]).range([388.3, 474]);
        return (
          <g key={name}>
            <line x1={610} x2={642} y1={legendY(s)} y2={legendY(s)} stroke={lineColors[s]} strokeWidth={1.3} />
            <text x={653.3} y={legendY(s) + 5} fontFamily={SERIF} fontSize={15.8} fill={INK}>{name}</text>
          </g>
        );
      })}
    </svg>
  );
}
